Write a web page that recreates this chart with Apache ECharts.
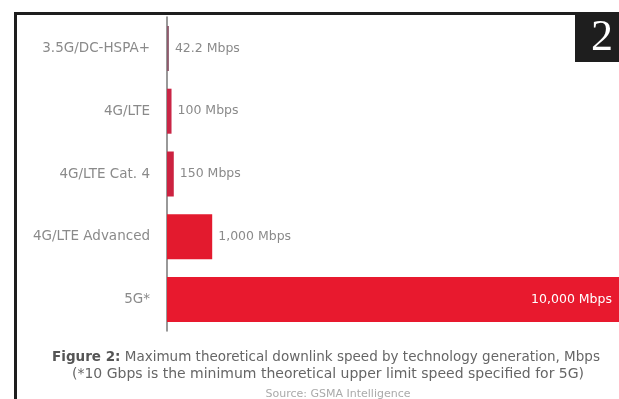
<!DOCTYPE html>
<html>
<head>
<meta charset="utf-8">
<script src="https://cdn.jsdelivr.net/npm/echarts@6/dist/echarts.min.js"></script>
<style>
html,body{margin:0;padding:0;background:#fff;}
#chart{width:619px;height:399px;}
</style>
</head>
<body>
<div id="chart"></div>
<script>
var categories = ['3.5G/DC-HSPA+', '4G/LTE', '4G/LTE Cat. 4', '4G/LTE Advanced', '5G*'];
var speeds = [42.2, 100, 150, 1000, 10000];
var valueLabels = ['42.2 Mbps', '100 Mbps', '150 Mbps', '1,000 Mbps', '10,000 Mbps'];
var captionLines = [
  'Maximum theoretical downlink speed by technology generation, Mbps',
  '(*10 Gbps is the minimum theoretical upper limit speed specified for 5G)',
  'Source: GSMA Intelligence'
];
var barColors = ['#8e5a6c', '#c92646', '#cc2240', '#e31a2e', '#e8192e'];

var chart = echarts.init(document.getElementById('chart'));
var font = 'DejaVu Sans';

var data = speeds.map(function (v, i) {
  var inside = i === speeds.length - 1;
  return {
    value: v,
    itemStyle: { color: barColors[i] },
    label: inside ? {
      position: 'insideRight', color: '#fff', distance: 7
    } : { position: 'right', color: '#8a8a8a', distance: 6 }
  };
});

chart.setOption({
  animation: false,
  backgroundColor: '#fff',
  grid: { left: 167, right: 0, top: 17, bottom: 68, containLabel: false },
  xAxis: {
    type: 'value', min: 0, max: 10000, show: false
  },
  yAxis: {
    type: 'category', data: categories, inverse: true,
    axisLine: { show: true, lineStyle: { color: '#777', width: 1.5 } },
    axisTick: { show: false },
    axisLabel: { color: '#8a8a8a', fontSize: 13.5, fontFamily: font, margin: 17 }
  },
  series: [{
    type: 'bar', data: data, barWidth: 45,
    label: {
      show: true, fontSize: 12.5, fontFamily: font,
      formatter: function (p) { return valueLabels[p.dataIndex]; }
    }
  }],
  graphic: [
    { type: 'rect', shape: { x: 14, y: 12, width: 562, height: 3 }, style: { fill: '#1e1e1e' }, z: 10 },
    { type: 'rect', shape: { x: 14, y: 12, width: 3, height: 387 }, style: { fill: '#1e1e1e' }, z: 10 },
    { type: 'rect', shape: { x: 575, y: 12, width: 44, height: 50 }, style: { fill: '#1e1e1e' }, z: 10 },
    { type: 'text', x: 602, y: 38, z: 11,
      style: { text: '2', fill: '#fff', font: '44px "Liberation Serif"', align: 'center', verticalAlign: 'middle' } },
    { type: 'text', x: 326, y: 357, z: 11,
      style: { text: '{b|Figure 2:}{n| ' + captionLines[0] + '}', align: 'center', verticalAlign: 'middle',
        fill: '#666', fontSize: 13.5, fontFamily: font,
        rich: {
          b: { fontWeight: 'bold', fill: '#555', fontSize: 13.5, fontFamily: font },
          n: { fill: '#666', fontSize: 13.5, fontFamily: font }
        } } },
    { type: 'text', x: 328, y: 374, z: 11,
      style: { text: captionLines[1], align: 'center', verticalAlign: 'middle', fill: '#666', fontSize: 14, fontFamily: font } },
    { type: 'text', x: 338, y: 394, z: 11,
      style: { text: captionLines[2], align: 'center', verticalAlign: 'middle', fill: '#aaa', fontSize: 11, fontFamily: font } }
  ]
});
</script>
</body>
</html>
